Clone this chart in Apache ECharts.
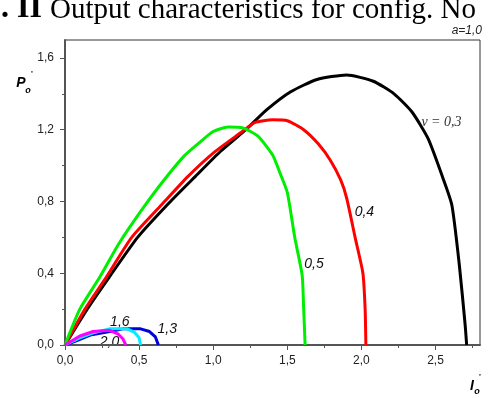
<!DOCTYPE html>
<html>
<head>
<meta charset="utf-8">
<script src="https://cdn.jsdelivr.net/npm/echarts@6/dist/echarts.min.js"></script>
<style>
  html, body { margin: 0; padding: 0; background: #fff; }
  #chart { width: 489px; height: 398px; }
</style>
</head>
<body>
<div id="chart"></div>
<script>
// curves, [I0', P0']
const nu03 = [[0,0],[0.15,0.2],[0.30,0.38],[0.49,0.60],[0.70,0.79],[0.88,0.94],[1.05,1.08],[1.22,1.20],[1.36,1.31],[1.52,1.41],[1.70,1.48],[1.90,1.505],[2.08,1.47],[2.22,1.40],[2.34,1.30],[2.45,1.15],[2.55,0.93],[2.61,0.78],[2.66,0.45],[2.70,0.11],[2.71,0]];
const nu04 = [[0,0],[0.135,0.2],[0.28,0.38],[0.45,0.60],[0.65,0.78],[0.83,0.94],[1.0,1.07],[1.18,1.18],[1.28,1.24],[1.40,1.255],[1.50,1.25],[1.61,1.20],[1.71,1.12],[1.79,1.03],[1.86,0.92],[1.90,0.82],[1.96,0.59],[2.01,0.40],[2.025,0.2],[2.03,0]];
const nu05 = [[0,0],[0.10,0.2],[0.236,0.38],[0.36,0.56],[0.507,0.74],[0.65,0.90],[0.80,1.05],[0.91,1.13],[1.0,1.19],[1.10,1.215],[1.20,1.21],[1.30,1.165],[1.40,1.06],[1.45,0.96],[1.50,0.85],[1.55,0.60],[1.60,0.39],[1.61,0.21],[1.62,0]];
const nu13 = [[0,0],[0.08,0.025],[0.17,0.055],[0.32,0.078],[0.39,0.09],[0.51,0.09],[0.57,0.075],[0.61,0.045],[0.63,0]];
const nu16 = [[0,0],[0.10,0.04],[0.20,0.07],[0.30,0.09],[0.42,0.09],[0.47,0.07],[0.50,0.04],[0.51,0]];
const nu20 = [[0,0],[0.10,0.05],[0.19,0.075],[0.30,0.082],[0.36,0.06],[0.39,0.035],[0.41,0]];

const xTicks = [0, 0.5, 1.0, 1.5, 2.0, 2.5];
const xMinor = [0.25, 0.75, 1.25, 1.75, 2.25, 2.75];
const yTicks = [0, 0.4, 0.8, 1.2, 1.6];
const yMinor = [0.2, 0.6, 1.0, 1.4];

// curve labels: text and where they sit in data units
const curveLabels = [
  { text: 'ν = 0,3', at: [2.54, 1.24], serif: true },
  { text: '0,4', at: [2.02, 0.74] },
  { text: '0,5', at: [1.68, 0.45] },
  { text: '1,6', at: [0.37, 0.13] },
  { text: '1,3', at: [0.69, 0.09] },
  { text: '2,0', at: [0.30, 0.015] }
];

const chart = echarts.init(document.getElementById('chart'));
const comma = v => v.toFixed(1).replace('.', ',');

function line(data, color, smooth) {
  return {
    type: 'line', data, symbol: 'none', smooth: smooth || false,
    lineStyle: { color, width: 3 }, silent: true
  };
}

const axisCommon = {
  type: 'value',
  splitLine: { show: false }
};

chart.setOption({
  animation: false,
  grid: {
    left: 65, top: 40, right: 9, bottom: 53,
    show: true, borderColor: '#333', borderWidth: 1
  },
  xAxis: [
    Object.assign({}, axisCommon, {
      min: 0, max: 2.8, interval: 0.5,
      axisLine: { lineStyle: { color: '#555', width: 2 } },
      axisTick: { customValues: xTicks, length: 5, lineStyle: { color: '#555', width: 1 } },
      axisLabel: { customValues: xTicks, formatter: comma, color: '#222', fontSize: 12, fontFamily: 'Liberation Sans', margin: 10 }
    }),
    Object.assign({}, axisCommon, {
      min: 0, max: 2.8, position: 'bottom',
      axisLine: { show: false },
      axisTick: { customValues: xMinor, length: 3, lineStyle: { color: '#555', width: 1 } },
      axisLabel: { show: false }
    })
  ],
  yAxis: [
    Object.assign({}, axisCommon, {
      min: 0, max: 1.7, interval: 0.4,
      axisLine: { show: true, lineStyle: { color: '#555', width: 2 } },
      axisTick: { show: true, customValues: yTicks, length: 5, lineStyle: { color: '#555', width: 1 } },
      axisLabel: { customValues: yTicks, formatter: comma, color: '#222', fontSize: 12, fontFamily: 'Liberation Sans', margin: 11 }
    }),
    Object.assign({}, axisCommon, {
      min: 0, max: 1.7, position: 'left',
      axisLine: { show: false },
      axisTick: { show: true, customValues: yMinor, length: 3, lineStyle: { color: '#555', width: 1 } },
      axisLabel: { show: false }
    })
  ],
  series: [
    line(nu03, '#000000', 0.2),
    line(nu04, '#ff0000', 0.2),
    line(nu05, '#00ee00', 0.2),
    line(nu13, '#0000dd'),
    line(nu16, '#00eeff'),
    line(nu20, '#ff00ff')
  ]
});

const graphics = [
  { type: 'text', x: 1, y: 9, style: { text: '. II', font: 'bold 32px "Liberation Serif"', fill: '#000', textVerticalAlign: 'middle' } },
  { type: 'text', x: 50, y: 10, style: { text: 'Output characteristics for config. No', font: '29px "Liberation Serif"', fill: '#000', textVerticalAlign: 'middle' } },
  { type: 'text', x: 482, y: 31, style: { text: 'a=1,0', font: 'italic 12px "Liberation Sans"', fill: '#222', textAlign: 'right', textVerticalAlign: 'middle' } },
  // y axis name P0'
  { type: 'text', x: 21, y: 83, style: { text: 'P', font: 'bold italic 14px "Liberation Sans"', fill: '#000', textAlign: 'center', textVerticalAlign: 'middle' } },
  { type: 'text', x: 28, y: 91, style: { text: 'o', font: 'bold italic 9px "Liberation Sans"', fill: '#000', textAlign: 'center', textVerticalAlign: 'middle' } },
  { type: 'text', x: 32, y: 74, style: { text: "'", font: 'bold 8px "Liberation Sans"', fill: '#000', textAlign: 'center', textVerticalAlign: 'middle' } },
  // x axis name I0'
  { type: 'text', x: 472, y: 386, style: { text: 'I', font: 'bold italic 14px "Liberation Sans"', fill: '#000', textAlign: 'center', textVerticalAlign: 'middle' } },
  { type: 'text', x: 477, y: 392, style: { text: 'o', font: 'bold italic 9px "Liberation Sans"', fill: '#000', textAlign: 'center', textVerticalAlign: 'middle' } },
  { type: 'text', x: 480, y: 377, style: { text: "'", font: 'bold 8px "Liberation Sans"', fill: '#000', textAlign: 'center', textVerticalAlign: 'middle' } }
];

curveLabels.forEach(l => {
  const p = chart.convertToPixel({ xAxisIndex: 0, yAxisIndex: 0 }, l.at);
  graphics.push({
    type: 'text', x: p[0], y: p[1],
    style: {
      text: l.text,
      font: l.serif ? 'italic 14px "Liberation Serif"' : 'italic 14px "Liberation Sans"',
      fill: l.serif ? '#333' : '#111',
      textAlign: 'center', textVerticalAlign: 'middle'
    }
  });
});

chart.setOption({ graphic: graphics });
</script>
</body>
</html>
